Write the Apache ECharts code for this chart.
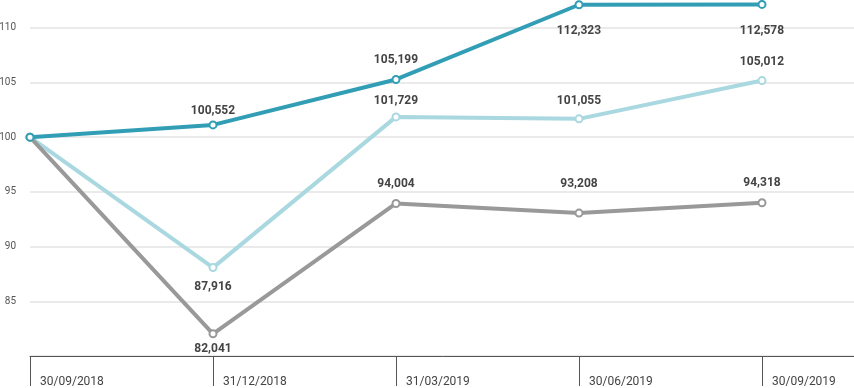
<!DOCTYPE html>
<html>
<head>
<meta charset="utf-8">
<style>
html,body{margin:0;padding:0;background:#fff;}
#chart{width:854px;height:388px;}
</style>
<script src="https://cdn.jsdelivr.net/npm/echarts@6/dist/echarts.min.js"></script>
</head>
<body>
<div id="chart"></div>
<script>
// Data
var categories = ['30/09/2018', '31/12/2018', '31/03/2019', '30/06/2019', '30/09/2019'];
var tealValues  = [100, 101.12, 105.27, 112.1, 112.13];
var lightValues = [100, 88.08, 101.85, 101.67, 105.17];
var grayValues  = [100, 82.03, 93.94, 93.06, 94.0];
var tealLabels  = ['', '100,552', '105,199', '112,323', '112,578'];
var lightLabels = ['', '87,916', '101,729', '101,055', '105,012'];
var grayLabels  = ['', '82,041', '94,004', '93,208', '94,318'];
var yTicks = [85, 90, 95, 100, 105, 110];

// Label placement (style, not data)
var tealPlace  = [null, ['top', 3], ['top', 9], ['bottom', 16], ['bottom', 16]];
var lightPlace = [null, ['bottom', 9], ['top', 5], ['top', 7], ['top', 8]];
var grayPlace  = [null, ['bottom', 5], ['top', 9], ['top', 19], ['top', 9]];

function build(values, labels, place) {
  return values.map(function (v, i) {
    var item = { value: v };
    if (place[i]) {
      item.label = { show: true, position: place[i][0], distance: place[i][1], formatter: labels[i] };
    } else {
      item.label = { show: false };
    }
    return item;
  });
}

function series(name, values, labels, place, color, z) {
  return {
    name: name,
    type: 'line',
    z: z,
    data: build(values, labels, place),
    symbol: 'circle',
    symbolSize: 7,
    showAllSymbol: true,
    lineStyle: { color: color, width: 4 },
    itemStyle: { color: '#ffffff', borderColor: color, borderWidth: 2 },
    label: {
      show: true,
      color: '#444444',
      fontFamily: 'Roboto',
      fontWeight: 'bold',
      fontSize: 12
    },
    emphasis: { disabled: true },
    animation: false
  };
}

var chart = echarts.init(document.getElementById('chart'), null, { renderer: 'canvas' });
chart.setOption({
  animation: false,
  backgroundColor: '#ffffff',
  grid: { left: 30, right: -91, top: -27, bottom: 32, containLabel: false, outerBoundsMode: 'none' },
  xAxis: {
    type: 'category',
    data: categories.concat(['']),
    boundaryGap: false,
    axisLine: { show: true, lineStyle: { color: '#555555', width: 1 } },
    axisTick: { show: true, length: 30, lineStyle: { color: '#555555', width: 1 } },
    axisLabel: {
      show: true,
      align: 'left',
      padding: [0, 0, 0, 10],
      margin: 20,
      color: '#444444',
      fontFamily: 'Roboto',
      fontSize: 12
    },
    splitLine: { show: false }
  },
  yAxis: {
    type: 'value',
    min: 80,
    max: 115,
    interval: 5,
    axisLine: { show: false },
    axisTick: { show: false },
    axisLabel: {
      margin: 14,
      color: '#555555',
      fontFamily: 'Roboto',
      fontSize: 10,
      formatter: function (v) { return yTicks.indexOf(v) >= 0 ? String(v) : ''; }
    },
    splitLine: { show: true, lineStyle: { color: '#e3e3e3', width: 1.5 } }
  },
  series: [
    series('light', lightValues, lightLabels, lightPlace, '#a9d8e0', 2),
    series('gray', grayValues, grayLabels, grayPlace, '#999999', 3),
    series('teal', tealValues, tealLabels, tealPlace, '#329eb5', 4)
  ]
});
</script>
</body>
</html>
